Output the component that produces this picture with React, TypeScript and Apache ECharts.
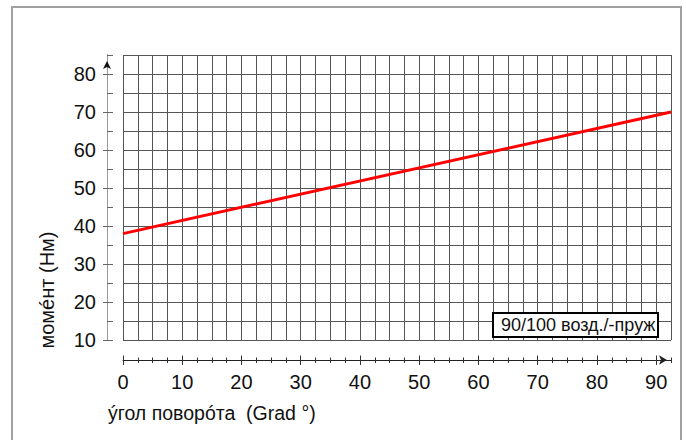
import React, { useEffect, useRef } from "react";
import * as echarts from "echarts";

const angleDeg = [0, 92.5];
const torqueNm = [38, 70];
const xMajorTicks = [0, 10, 20, 30, 40, 50, 60, 70, 80, 90];
const yMajorTicks = [10, 20, 30, 40, 50, 60, 70, 80];
const seriesName = "90/100 возд./-пруж";
const yTitle = "момéнт (Нм)";
const xTitle = "ýгол поворóта  (Grad °)";

const FONT = "'Liberation Sans', Arial, sans-serif";

export default function App() {
  const ref = useRef<HTMLDivElement>(null);
  useEffect(() => {
    if (!ref.current) return;
    const chart = echarts.init(ref.current, null, { renderer: "svg" });
    const xBase = { type: "value", min: 0, max: 92.5, gridIndex: 0, position: "bottom" } as any;
    const yBase = { type: "value", min: 10, max: 85, gridIndex: 0, position: "left" } as any;
    const hidden = { show: false, onZero: false };
    const hid = { show: false };
    chart.setOption({
      animation: false,
      backgroundColor: "#ffffff",
      grid: {
        left: 123,
        top: 55,
        width: 548,
        height: 285,
        containLabel: false,
        outerBoundsMode: "none",
      },
      xAxis: [
        {
          ...xBase,
          interval: 2.5,
          axisLine: hidden,
          axisTick: hid,
          axisLabel: hid,
          splitLine: { show: true, lineStyle: { color: "#555", width: 1 } },
        },
        {
          ...xBase,
          interval: 2.5,
          offset: 20,
          axisLine: {
            show: true,
            onZero: false,
            lineStyle: { color: "#222", width: 1 },
            symbol: ["none", "arrow"],
            symbolSize: [7, 8],
            symbolOffset: [0, -4],
          },
          axisTick: { show: true, inside: true, length: 2.5, lineStyle: { color: "#333" } },
          axisLabel: hid,
          splitLine: hid,
        },
        {
          ...xBase,
          interval: 2.5,
          offset: 20,
          axisLine: hidden,
          axisTick: { show: true, inside: false, length: 3, lineStyle: { color: "#333" } },
          axisLabel: hid,
          splitLine: hid,
        },
        {
          ...xBase,
          interval: 2.5,
          offset: 20,
          axisLine: hidden,
          axisTick: { show: true, inside: true, length: 4.5, customValues: xMajorTicks, lineStyle: { color: "#333" } },
          axisLabel: hid,
          splitLine: hid,
        },
        {
          ...xBase,
          interval: 2.5,
          offset: 20,
          axisLine: hidden,
          axisTick: { show: true, inside: false, length: 5, customValues: xMajorTicks, lineStyle: { color: "#333" } },
          axisLabel: {
            show: true,
            customValues: xMajorTicks,
            margin: 12,
            fontSize: 20,
            color: "#111",
            fontFamily: FONT,
          },
          splitLine: hid,
        },
      ],
      yAxis: [
        {
          ...yBase,
          interval: 5,
          axisLine: hidden,
          axisTick: hid,
          axisLabel: hid,
          splitLine: { show: true, lineStyle: { color: "#555", width: 1 } },
        },
        {
          ...yBase,
          interval: 5,
          offset: 16,
          axisLine: {
            show: true,
            onZero: false,
            lineStyle: { color: "#111", width: 1 },
            symbol: ["none", "arrow"],
            symbolSize: [6, 8],
            symbolOffset: [0, -6],
          },
          axisTick: hid,
          axisLabel: hid,
          splitLine: hid,
        },
        {
          ...yBase,
          interval: 5,
          offset: 16,
          axisLine: {
            show: true,
            onZero: false,
            lineStyle: { color: "#999", width: 1 },
          },
          axisTick: { show: true, inside: true, length: 6, lineStyle: { color: "#666" } },
          axisLabel: {
            show: true,
            customValues: yMajorTicks,
            margin: 11,
            fontSize: 20,
            color: "#111",
            fontFamily: FONT,
          },
          splitLine: hid,
        },
        {
          ...yBase,
          interval: 5,
          offset: 16,
          axisLine: hidden,
          axisTick: { show: true, inside: false, length: 4, customValues: yMajorTicks, lineStyle: { color: "#666" } },
          axisLabel: hid,
          splitLine: hid,
        },
      ],
      series: [
        {
          name: seriesName,
          type: "line",
          xAxisIndex: 0,
          yAxisIndex: 0,
          data: angleDeg.map((x, i) => [x, torqueNm[i]]),
          symbol: "none",
          lineStyle: { color: "#ff0000", width: 3 },
          clip: true,
        },
      ],
      graphic: [
        {
          type: "rect",
          shape: { x: 12, y: 7, width: 669, height: 470 },
          style: { fill: "none", stroke: "#a0a0a0", lineWidth: 2 },
          silent: true,
        },
        {
          type: "rect",
          shape: { x: 493, y: 313, width: 165, height: 24 },
          style: { fill: "#ffffff", stroke: "#000000", lineWidth: 2 },
          z: 100,
        },
        {
          type: "text",
          x: 501,
          y: 325,
          style: {
            text: seriesName,
            fontSize: 18,
            fontFamily: FONT,
            fill: "#111",
            verticalAlign: "middle",
            align: "left",
          },
          z: 101,
        },
        {
          type: "text",
          x: 47,
          y: 290,
          rotation: Math.PI / 2,
          style: {
            text: yTitle,
            fontSize: 20,
            fontFamily: FONT,
            fill: "#111",
            align: "center",
            verticalAlign: "middle",
          },
        },
        {
          type: "text",
          x: 108,
          y: 413,
          style: {
            text: xTitle,
            fontSize: 19.5,
            fontFamily: FONT,
            fill: "#111",
            align: "left",
            verticalAlign: "middle",
          },
        },
      ],
    });
    return () => chart.dispose();
  }, []);
  return (
    <div
      ref={ref}
      style={{ position: "fixed", left: 0, top: 0, width: 686, height: 440 }}
    />
  );
}
